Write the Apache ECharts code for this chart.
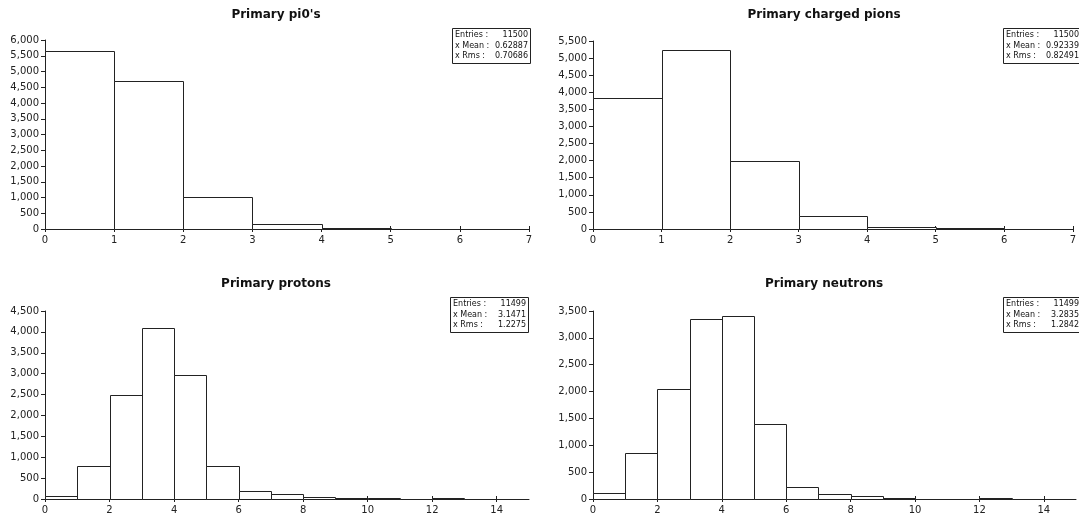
<!DOCTYPE html>
<html>
<head>
<meta charset="utf-8">
<script src="https://cdn.jsdelivr.net/npm/echarts@6/dist/echarts.min.js"></script>
<style>
html,body{margin:0;padding:0;background:#fff;}
#chart{width:1079px;height:523px;}
</style>
</head>
<body>
<div id="chart"></div>
<script>
// ---- data ----
const titles = ["Primary pi0's", "Primary charged pions", "Primary protons", "Primary neutrons"];
const pi0Counts = [5650, 4690, 1010, 165, 25, 0, 0];
const chargedPionCounts = [3830, 5250, 1980, 390, 65, 15, 0];
const protonCounts = [60, 790, 2480, 4090, 2960, 790, 200, 120, 45, 20, 15, 0, 10, 0, 0];
const neutronCounts = [120, 850, 2050, 3350, 3400, 1390, 220, 95, 50, 15, 0, 0, 10, 0, 0];
const xTicksTop = [0, 1, 2, 3, 4, 5, 6, 7];
const xTicksBottom = [0, 2, 4, 6, 8, 10, 12, 14];
const yMax = [6000, 5500, 4500, 3500];
const xMax = [7, 7, 15, 15];
const entries = ["11500", "11500", "11499", "11499"];
const means = ["0.62887", "0.92339", "3.1471", "3.2835"];
const rmss = ["0.70686", "0.82491", "1.2275", "1.2842"];

const allCounts = [pi0Counts, chargedPionCounts, protonCounts, neutronCounts];
const allTicks = [xTicksTop, xTicksTop, xTicksBottom, xTicksBottom];

// ---- layout ----
const grids = [
  {left: 45, top: 40, width: 484, height: 189},
  {left: 593, top: 41, width: 483, height: 188},
  {left: 45, top: 311, width: 484, height: 188},
  {left: 593, top: 311, width: 483, height: 188}
];
const titlePos = [
  {x: 271, y: 4}, {x: 819, y: 4}, {x: 271, y: 273}, {x: 819, y: 273}
];
const boxPos = [
  {right: 548, top: 28}, {right: -3, top: 28}, {right: 550, top: 297}, {right: -3, top: 297}
];

const FONT = 'DejaVu Sans';
const fmt = v => v.toLocaleString('en-US');

const option = {
  backgroundColor: '#fff',
  animation: false,
  title: [],
  grid: [],
  xAxis: [],
  yAxis: [],
  series: []
};

for (let k = 0; k < 4; k++) {
  option.grid.push(Object.assign({containLabel: false}, grids[k]));
  option.title.push({
    text: titles[k],
    left: titlePos[k].x, top: titlePos[k].y, textAlign: 'center',
    textStyle: {fontFamily: FONT, fontSize: 12, fontWeight: 'bold', color: '#111'}
  });
  const rs = {fontFamily: FONT, fontSize: 8, fontWeight: 'normal', lineHeight: 10.5, color: '#111'};
  option.title.push({
    text: '{l|Entries :}{v|' + entries[k] + '}\n{l|x Mean :}{v|' + means[k] + '}\n{l|x Rms :}{v|' + rmss[k] + '}',
    right: boxPos[k].right, top: boxPos[k].top,
    borderColor: '#222', borderWidth: 1, backgroundColor: '#fff',
    padding: [2, 3, 2, 3],
    textStyle: {
      fontFamily: FONT, fontSize: 8, fontWeight: 'normal', color: '#111', lineHeight: 10.5,
      rich: {
        l: Object.assign({width: 39, align: 'left'}, rs),
        v: Object.assign({width: 34, align: 'right'}, rs)
      }
    }
  });
  const ticks = allTicks[k];
  const axisBase = {
    type: 'value', gridIndex: k, min: 0, max: xMax[k], position: 'bottom',
    splitLine: {show: false}
  };
  option.xAxis.push(Object.assign({}, axisBase, {
    axisLine: {show: true, onZero: false, lineStyle: {color: '#222', width: 1}},
    axisTick: {show: true, inside: false, length: 3, lineStyle: {color: '#222'}, customValues: ticks},
    axisLabel: {show: true, customValues: ticks, margin: 6, fontFamily: FONT, fontSize: 10, color: '#222'}
  }));
  option.xAxis.push(Object.assign({}, axisBase, {
    axisLine: {show: false, onZero: false},
    axisTick: {show: true, inside: true, length: 3, lineStyle: {color: '#222'}, customValues: ticks},
    axisLabel: {show: false}
  }));
  option.yAxis.push({
    type: 'value', gridIndex: k, min: 0, max: yMax[k], interval: 500,
    splitLine: {show: false},
    axisLine: {show: true, lineStyle: {color: '#222', width: 1}},
    axisTick: {show: true, length: 4, lineStyle: {color: '#222'}},
    axisLabel: {margin: 6, fontFamily: FONT, fontSize: 10, color: '#222', formatter: fmt}
  });
  const data = [];
  allCounts[k].forEach((c, i) => { if (c > 0) data.push([i, i + 1, c]); });
  option.series.push({
    type: 'custom',
    xAxisIndex: 2 * k, yAxisIndex: k,
    encode: {x: [0, 1], y: 2},
    data: data,
    z: 1,
    renderItem: function (params, api) {
      const p0 = api.coord([api.value(0), 0]);
      const p1 = api.coord([api.value(1), api.value(2)]);
      const x0 = Math.round(p0[0]) + 0.5, x1 = Math.round(p1[0]) + 0.5;
      const yb = Math.round(p0[1]) + 0.5;
      let yt = Math.round(p1[1]) + 0.5;
      if (yb - yt < 1) yt = yb - 1;
      return {
        type: 'rect',
        shape: {x: x0, y: yt, width: x1 - x0, height: yb - yt},
        style: {fill: '#fff', stroke: '#222', lineWidth: 1}
      };
    }
  });
}

const chart = echarts.init(document.getElementById('chart'), null, {renderer: 'canvas'});
chart.setOption(option);
</script>
</body>
</html>
